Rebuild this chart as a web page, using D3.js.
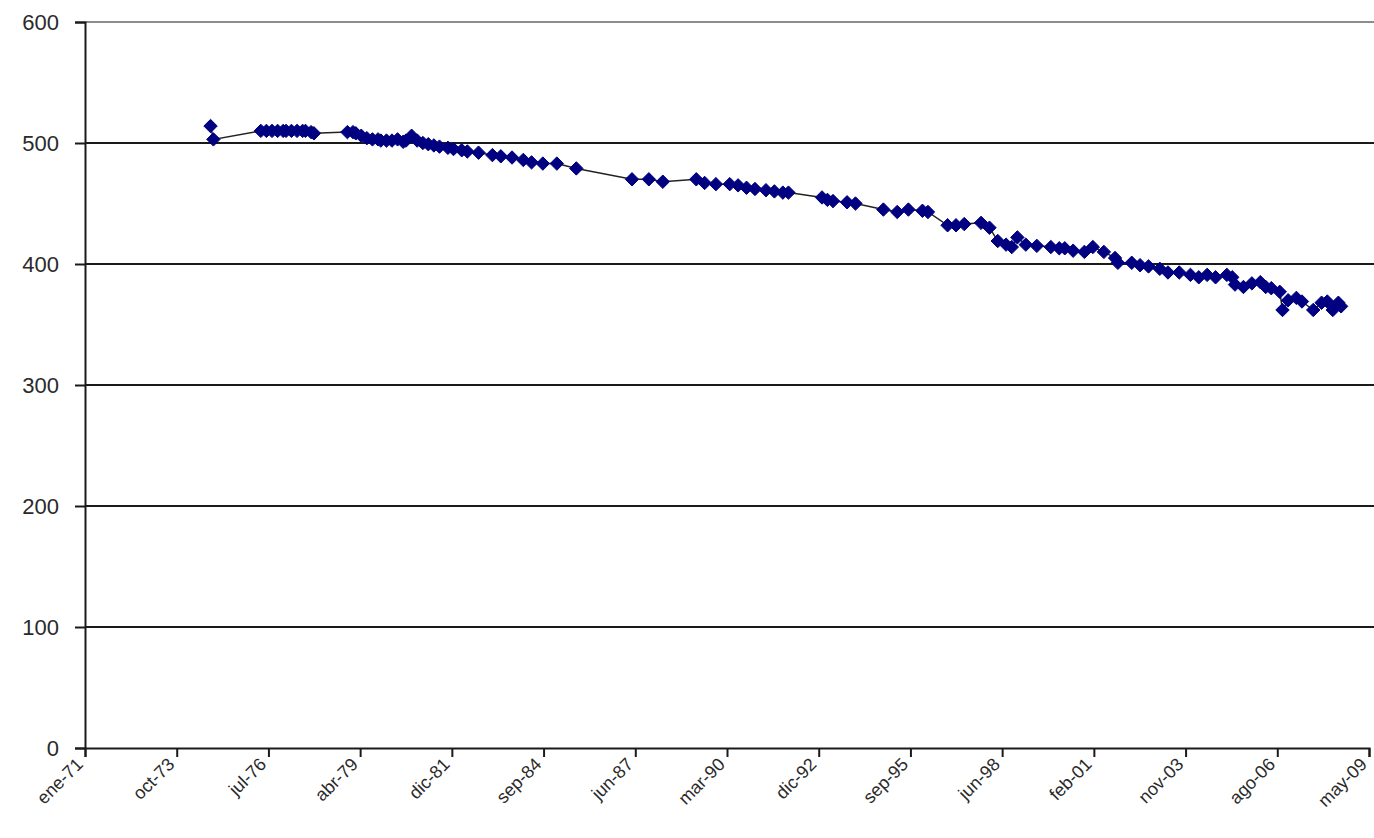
<!DOCTYPE html>
<html>
<head>
<meta charset="utf-8">
<script src="https://cdn.jsdelivr.net/npm/d3@7"></script>
<style>
  html, body { margin: 0; padding: 0; background: #fff; }
  svg { display: block; font-family: "Liberation Sans", Arial, sans-serif; }
</style>
</head>
<body>
<svg id="chart" width="1374" height="838"></svg>
<script>
// Observation dates (year-month) and their values
const dates = [
  "1974-10","1974-11","1976-04","1976-06","1976-08","1976-10","1976-12","1977-01","1977-03","1977-05",
  "1977-07","1977-08","1977-10","1977-11","1978-11","1979-01","1979-02","1979-04","1979-06","1979-08",
  "1979-10","1979-11","1980-01","1980-03","1980-05","1980-07","1980-08","1980-10","1980-12","1981-02",
  "1981-04","1981-06","1981-08","1981-11","1982-01","1982-04","1982-06","1982-10","1983-03","1983-06",
  "1983-10","1984-02","1984-05","1984-09","1985-02","1985-09","1987-05","1987-11","1988-04","1989-04",
  "1989-07","1989-11","1990-04","1990-07","1990-10","1991-01","1991-05","1991-08","1991-11","1992-01",
  "1993-01","1993-03","1993-05","1993-10","1994-01","1994-11","1995-04","1995-08","1996-01","1996-03",
  "1996-10","1997-01","1997-04","1997-10","1998-01","1998-04","1998-07","1998-09","1998-11","1999-02",
  "1999-06","1999-11","2000-02","2000-04","2000-07","2000-11","2001-02","2001-06","2001-10","2001-11",
  "2002-04","2002-07","2002-10","2003-02","2003-05","2003-09","2004-01","2004-04","2004-07","2004-10",
  "2005-02","2005-04","2005-05","2005-08","2005-11","2006-02","2006-04","2006-06","2006-09","2006-10",
  "2006-12","2007-03","2007-05","2007-09","2007-12","2008-02","2008-04","2008-06","2008-07"
];
const values = [
  514,503,510,510,510,510,510,510,510,510,
  510,510,509,508,509,509,508,506,504,503,
  503,502,502,502,503,501,502,506,502,500,
  499,498,497,496,495,494,493,492,490,489,
  488,486,484,483,483,479,470,470,468,470,
  467,466,466,465,463,462,461,460,459,459,
  455,453,452,451,450,445,443,445,444,443,
  432,432,433,434,430,419,416,414,422,416,
  415,414,413,413,411,410,414,410,405,401,
  401,399,398,396,393,393,391,389,391,389,
  391,389,383,381,384,385,381,380,377,362,
  370,372,369,362,368,369,362,368,365
];

// Axis labels
const xTickLabels = ["ene-71","oct-73","jul-76","abr-79","dic-81","sep-84","jun-87","mar-90",
                     "dic-92","sep-95","jun-98","feb-01","nov-03","ago-06","may-09"];
const yTicks = [0, 100, 200, 300, 400, 500, 600];

const svg = d3.select("#chart");
const plotLeft = 85, plotRight = 1369, plotTop = 22, plotBottom = 748;

const parse = d3.timeParse("%Y-%m");
const data = dates.map((d, i) => ({ date: parse(d), value: values[i] }));

// Date axis with a major unit of 1000 days
const axisStart = new Date(1971, 0, 1);
const stepDays = 1000;
const tickDates = xTickLabels.map((_, i) => d3.timeDay.offset(axisStart, i * stepDays));
const x = d3.scaleTime()
  .domain([axisStart, tickDates[tickDates.length - 1]])
  .range([plotLeft, plotRight]);
const y = d3.scaleLinear().domain([0, 600]).range([plotBottom, plotTop]);

// Horizontal gridlines
svg.append("g").selectAll("line")
  .data(yTicks.filter(v => v > 0 && v < 600))
  .join("line")
  .attr("x1", plotLeft).attr("x2", 1374)
  .attr("y1", d => y(d)).attr("y2", d => y(d))
  .attr("stroke", "#1a1a1a").attr("stroke-width", 2);

// Top border of the plot area
svg.append("line")
  .attr("x1", plotLeft).attr("x2", 1374)
  .attr("y1", y(600)).attr("y2", y(600))
  .attr("stroke", "#8c8c8c").attr("stroke-width", 2);

// Y axis
const yAxis = d3.axisLeft(y).tickValues(yTicks).tickSize(10).tickPadding(16);
const gy = svg.append("g").attr("transform", `translate(${plotLeft},0)`).call(yAxis);
gy.select(".domain").attr("stroke", "#1a1a1a").attr("stroke-width", 2);
gy.selectAll(".tick line").attr("stroke", "#1a1a1a").attr("stroke-width", 2);
gy.selectAll(".tick text")
  .attr("font-size", 22).attr("fill", "#2a2a2a")
  .attr("font-family", "Liberation Sans, Arial, sans-serif");

// X axis
const xAxis = d3.axisBottom(x).tickValues(tickDates).tickSize(9)
  .tickFormat((d, i) => xTickLabels[i]);
const gx = svg.append("g").attr("transform", `translate(0,${plotBottom})`).call(xAxis);
gx.select(".domain").attr("stroke", "#1a1a1a").attr("stroke-width", 2);
gx.selectAll(".tick line").attr("stroke", "#1a1a1a").attr("stroke-width", 2);
gx.selectAll(".tick text")
  .attr("font-size", 18).attr("fill", "#2a2a2a")
  .attr("font-family", "Liberation Sans, Arial, sans-serif")
  .attr("text-anchor", "end")
  .attr("dy", 0)
  .attr("transform", "translate(-10,9) rotate(-45)");

// Connecting line
const line = d3.line().x(d => x(d.date)).y(d => y(d.value));
svg.append("path")
  .datum(data)
  .attr("d", line)
  .attr("fill", "none")
  .attr("stroke", "#222")
  .attr("stroke-width", 1.5);

// Diamond markers
const diamond = d3.symbol().type(d3.symbolDiamond2).size(115);
svg.append("g").selectAll("path")
  .data(data)
  .join("path")
  .attr("d", diamond)
  .attr("transform", d => `translate(${x(d.date)},${y(d.value)})`)
  .attr("fill", "#000080")
  .attr("stroke", "#000080")
  .attr("stroke-width", 1);
</script>
</body>
</html>
